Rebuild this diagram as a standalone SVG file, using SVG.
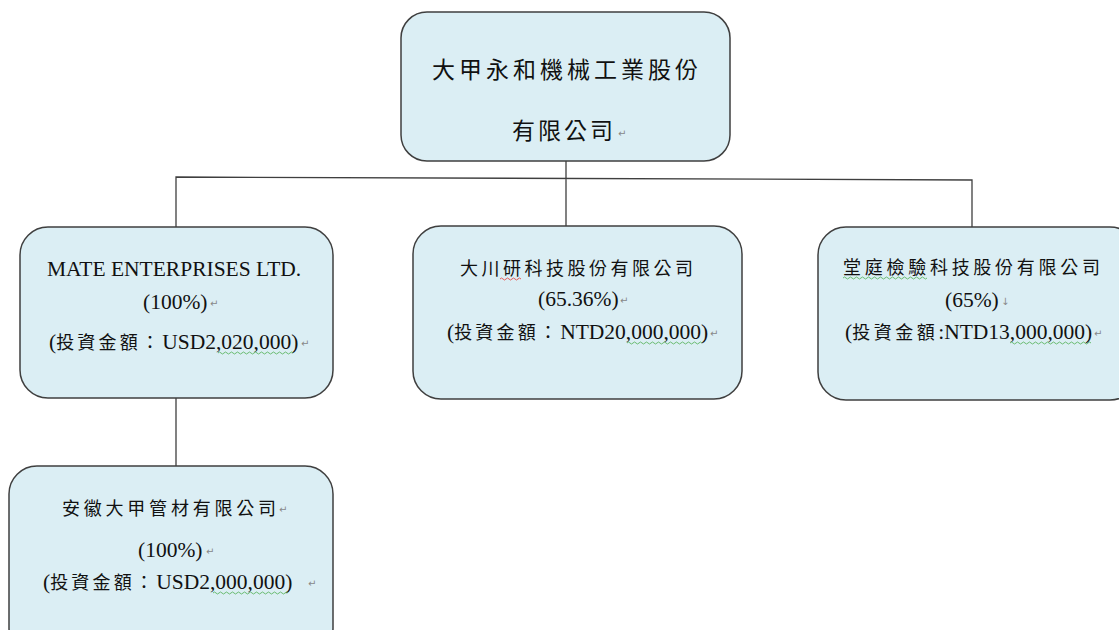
<svg xmlns="http://www.w3.org/2000/svg" width="1119" height="630" viewBox="0 0 1119 630">
<style>
.box{fill:#dbeef4;stroke:#3f3f3f;stroke-width:1.5}
.t{font-family:"Liberation Serif","Noto Sans CJK TC",serif;fill:#111;font-size:21.5px}
.c{font-family:"Noto Sans CJK TC","Liberation Serif",serif;font-size:18px}
.pm{font-family:"DejaVu Sans",sans-serif;font-size:10px;fill:#888}
.con{stroke:#3f3f3f;stroke-width:1.3;fill:none}
.wg{stroke:#4caf50;stroke-width:0.8;fill:none}
.wr{stroke:#e53935;stroke-width:0.8;fill:none}
</style>
<rect width="1119" height="630" fill="#fff"/>
<g id="connectors">
<path class="con" d="M566 161V179M176 227V177L972 180V227M566 179V227M176 398V466"/>
</g>
<g id="root">
<rect class="box" x="401" y="12" width="329" height="149" rx="26"/>
<text class="t" x="432" y="78" style="font-size:23px" textLength="266" lengthAdjust="spacing">大甲永和機械工業股份</text>
<text class="t" x="512" y="139" style="font-size:23px" textLength="101" lengthAdjust="spacing">有限公司</text>
<text class="pm" x="618" y="137">↵</text>
</g>
<g id="mate">
<rect class="box" x="20" y="227" width="313" height="171" rx="28"/>
<text class="t" x="47" y="276">MATE ENTERPRISES LTD.</text>
<text class="t" x="143" y="309">(100%)</text>
<text class="pm" x="210" y="307">↵</text>
<text class="t" x="49" y="349">(<tspan class="c" letter-spacing="3.2">投資金額：</tspan>USD2,020,000)</text>
<text class="pm" x="301" y="347">↵</text>
<path class="wg" d="M218 353q1.5-2 3 0t3 0t3 0t3 0t3 0t3 0t3 0t3 0t3 0t3 0t3 0t3 0t3 0t3 0t3 0t3 0t3 0t3 0t3 0t3 0t3 0t3 0t3 0t3 0t3 0"/>
</g>
<g id="dachuan">
<rect class="box" x="413" y="226" width="329" height="173" rx="28"/>
<text class="t c" x="460" y="275" textLength="233" lengthAdjust="spacing">大川研科技股份有限公司</text>
<path class="wr" d="M500 279q1.5-2 3 0t3 0t3 0t3 0t3 0t3 0t3 0"/>
<text class="t" x="538" y="306">(65.36%)</text>
<text class="pm" x="620" y="304">↵</text>
<text class="t" x="447" y="339">(<tspan class="c" letter-spacing="3.2">投資金額：</tspan>NTD20,000,000)</text>
<text class="pm" x="710" y="337">↵</text>
<path class="wg" d="M627 343q1.5-2 3 0t3 0t3 0t3 0t3 0t3 0t3 0t3 0t3 0t3 0t3 0t3 0t3 0t3 0t3 0t3 0t3 0t3 0t3 0t3 0t3 0t3 0t3 0t3 0t3 0"/>
</g>
<g id="tangting">
<rect class="box" x="818" y="227" width="320" height="173" rx="28"/>
<text class="t c" x="843" y="274" textLength="257" lengthAdjust="spacing">堂庭檢驗科技股份有限公司</text>
<path class="wg" d="M843 278q1.5-2 3 0t3 0t3 0t3 0t3 0t3 0t3 0t3 0t3 0t3 0t3 0t3 0t3 0t3 0t3 0t3 0t3 0t3 0t3 0t3 0t3 0t3 0t3 0t3 0t3 0t3 0t3 0t3 0"/>
<text class="t" x="945" y="307">(65%)</text>
<text class="pm" x="1001" y="305">↓</text>
<text class="t" x="845" y="339">(<tspan class="c" letter-spacing="3.5">投資金額</tspan>:NTD13,000,000)</text>
<text class="pm" x="1094" y="337">↵</text>
<path class="wg" d="M1010 343q1.5-2 3 0t3 0t3 0t3 0t3 0t3 0t3 0t3 0t3 0t3 0t3 0t3 0t3 0t3 0t3 0t3 0t3 0t3 0t3 0t3 0t3 0t3 0t3 0t3 0t3 0t3 0t3 0"/>
</g>
<g id="anhui">
<rect class="box" x="9" y="466" width="324" height="190" rx="28"/>
<text class="t c" x="62" y="515" textLength="214" lengthAdjust="spacing">安徽大甲管材有限公司</text>
<text class="pm" x="279" y="513">↵</text>
<text class="t" x="138" y="557">(100%)</text>
<text class="pm" x="206" y="555">↵</text>
<text class="t" x="43" y="589">(<tspan class="c" letter-spacing="3.2">投資金額：</tspan>USD2,000,000)</text>
<text class="pm" x="308" y="587">↵</text>
<path class="wg" d="M213 593q1.5-2 3 0t3 0t3 0t3 0t3 0t3 0t3 0t3 0t3 0t3 0t3 0t3 0t3 0t3 0t3 0t3 0t3 0t3 0t3 0t3 0t3 0t3 0t3 0t3 0t3 0"/>
</g>
</svg>
